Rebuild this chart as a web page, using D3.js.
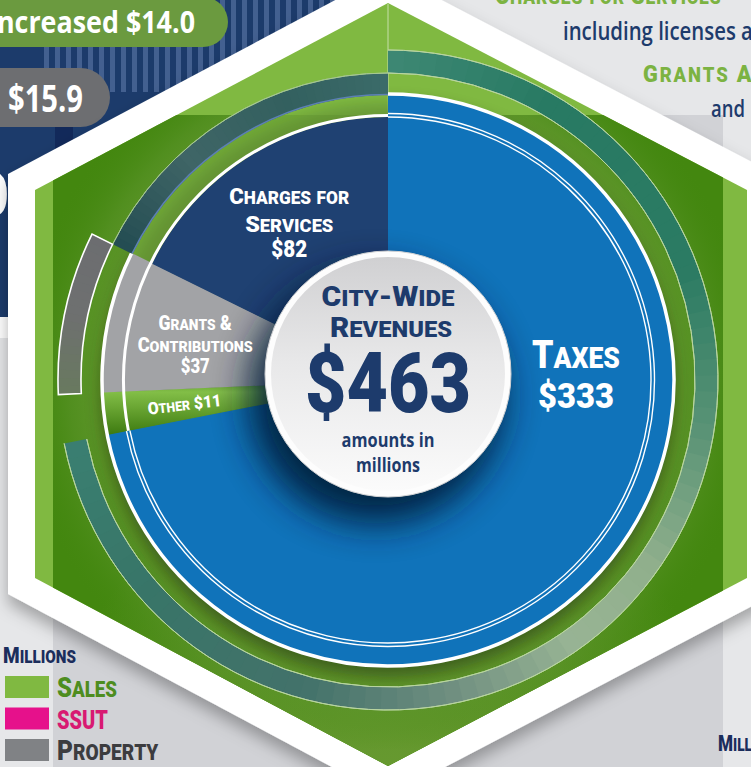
<!DOCTYPE html>
<html><head><meta charset="utf-8">
<script src="https://cdn.jsdelivr.net/npm/d3@7/dist/d3.min.js"></script>
<style>
html,body{margin:0;padding:0;background:#e6e7e9;overflow:hidden}
svg{display:block}
</style></head><body>
<svg id="chart" width="751" height="767" viewBox="0 0 751 767"></svg>
<script>
// ---------------- DATA ----------------
const categories = ["Taxes", "Other", "Grants & Contributions", "Charges for Services"];
const revenueValues = [333, 11, 37, 82];            // $ millions
const totalRevenue = 463;
const sliceLabelLines = [["Taxes", "$333"], ["Other $11"], ["Grants &", "Contributions", "$37"], ["Charges for", "Services", "$82"]];
const centerLines = ["City-Wide", "Revenues", "$" + totalRevenue, "amounts in", "millions"];
const legendTitle = "Millions";
const legendLabels = ["Sales", "SSUT", "Property"];
const pillTexts = ["Increased $14.0", "$15.9"];
const sideTexts = ["Charges for Services", "including licenses and permits", "Grants And Contributions", "and", "Millions"];

// ---------------- LAYOUT / STYLE ----------------
const W = 751, H = 767, cx = 388, cy = 380;
const DISPLAY = "Roboto, Lato, 'DejaVu Sans', sans-serif";
const BODY = "'Open Sans', Lato, 'DejaVu Sans', sans-serif";
const NAVY = "#1d3b6c";
const sliceStyle = {
  "Taxes": {outer: 287, fill: "#1073ba"},
  "Other": {outer: 285, fill: "url(#gOther)"},
  "Grants & Contributions": {outer: 285, fill: "url(#gGrants)"},
  "Charges for Services": {outer: 263, fill: "url(#gCharges)"}
};
const labelLayout = {
  "Taxes": {angle: 90.6, r: 188, size: 39, lines: [{dy: -14, w: 88}, {dy: 26, w: 76, size: 36}]},
  "Other": {r: 205, size: 17, rotate: true, lines: [{dy: 6, w: 74}]},
  "Grants & Contributions": {r: 197, size: 19.5, lines: [{dy: -10, w: 73}, {dy: 12, w: 115}, {dy: 33, w: 29, size: 20}]},
  "Charges for Services": {r: 187, size: 22.5, lines: [{dy: -17, w: 120}, {dy: 11, w: 88}, {dy: 36, w: 36, size: 24}]}
};
const legendColors = ["#80b941", "#e6118b", "#808285"];
const legendTextColors = ["#4e8d1f", "#d81a72", "#3c3c3f"];
const hexGreen = [[388,3],[747,190],[747,578],[388,766],[35,578],[35,190]];
const hexWhite = [[388,-28],[775,174],[775,594],[388,797],[8,594],[8,174]];

// ---------------- HELPERS ----------------
const svg = d3.select("#chart");
const defs = svg.append("defs");
const deg = r => r * 180 / Math.PI;
const rad = d => d * Math.PI / 180;
function grad(type, id, attrs, stops) {
  const g = defs.append(type).attr("id", id);
  Object.entries(attrs).forEach(([k, v]) => g.attr(k, v));
  stops.forEach(([o, c, op]) => g.append("stop").attr("offset", o).attr("stop-color", c).attr("stop-opacity", op == null ? 1 : op));
}
function fitText(parent, o) {
  const g = parent.append("g");
  const t = g.append("text")
    .attr("font-family", o.family || DISPLAY).attr("font-weight", o.weight || 900)
    .attr("fill", o.fill || "#fff").attr("font-size", o.size)
    .attr("text-anchor", o.anchor || "middle").style("white-space", "pre");
  if (o.ls) t.attr("letter-spacing", o.ls);
  if (o.caps) {
    for (const ch of o.text) {
      const lower = ch !== ch.toUpperCase();
      t.append("tspan").attr("font-size", lower ? o.size * (o.ratio || 0.78) : o.size).text(ch.toUpperCase());
    }
  } else t.text(o.text);
  let sx = 1;
  if (o.width) {
    const node = t.node();
    const len = o.prefix ? node.getSubStringLength(0, o.prefix) : node.getComputedTextLength();
    sx = o.width / len;
  }
  g.attr("transform", `translate(${o.x},${o.y}) rotate(${o.rotate || 0}) scale(${sx},1)`);
  return g;
}

// ---------------- DEFS ----------------
grad("linearGradient", "gCharges", {gradientUnits: "userSpaceOnUse", x1: 130, y1: 0, x2: 388, y2: 0},
  [[0, "#1f4172"], [0.7, "#1a3868"], [1, "#0f2345"]]);
grad("radialGradient", "gGrants", {gradientUnits: "userSpaceOnUse", cx: cx, cy: cy, r: 285},
  [[0.4, "#6c6d70"], [0.65, "#8d8e91"], [1, "#a2a3a6"]]);
grad("linearGradient", "gOther", {x1: 0, y1: 0, x2: 0, y2: 1},
  [[0, "#5d9a2b"], [0.22, "#82be47"], [0.5, "#6aa633"], [1, "#3d7a10"]]);
grad("linearGradient", "gCenter", {x1: 0, y1: 0, x2: 0, y2: 1},
  [[0, "#d0d0d2"], [0.45, "#e8e8e9"], [1, "#fbfbfb"]]);
grad("radialGradient", "gGlowPie", {gradientUnits: "userSpaceOnUse", cx: cx, cy: cy, r: 370},
  [[0.75, "#64992e", 1], [0.86, "#5b942a", 0.6], [1, "#43870f", 0]]);
grad("radialGradient", "gGlowBottom", {gradientUnits: "userSpaceOnUse", cx: 388, cy: 790, r: 340},
  [[0, "#689a31", 1], [0.6, "#62962d", 0.8], [1, "#62962d", 0]]);
const fBlur = defs.append("filter").attr("id", "blur").attr("x", "-30%").attr("y", "-30%").attr("width", "160%").attr("height", "160%");
fBlur.append("feGaussianBlur").attr("stdDeviation", 8);
const fBlur2 = defs.append("filter").attr("id", "blur2").attr("x", "-40%").attr("y", "-40%").attr("width", "180%").attr("height", "180%");
fBlur2.append("feGaussianBlur").attr("stdDeviation", 18);
const fHex = defs.append("filter").attr("id", "hexShadow").attr("x", "-10%").attr("y", "-10%").attr("width", "120%").attr("height", "130%");
fHex.append("feDropShadow").attr("dx", 0).attr("dy", 9).attr("stdDeviation", 8).attr("flood-color", "#000").attr("flood-opacity", 0.3);
defs.append("clipPath").attr("id", "hexClip").append("polygon").attr("points", hexGreen.map(p => p.join(",")).join(" "));
const pat = defs.append("pattern").attr("id", "stripes").attr("patternUnits", "userSpaceOnUse").attr("width", 11).attr("height", 20);
pat.append("rect").attr("width", 5).attr("height", 20).attr("fill", "#4a6797");

// ---------------- BACKGROUND ----------------
svg.append("rect").attr("width", W).attr("height", H).attr("fill", "#e6e7e9");
svg.append("rect").attr("x", 53).attr("y", 115).attr("width", 670).attr("height", H - 115).attr("fill", "#d1d2d6");
svg.append("rect").attr("x", 0).attr("y", 0).attr("width", 390).attr("height", 317).attr("fill", "#1c3b6b");
svg.append("rect").attr("x", 0).attr("y", 317).attr("width", 40).attr("height", 21).attr("fill", "#fff");
svg.append("rect").attr("x", 40).attr("y", 0).attr("width", 295).attr("height", 92).attr("fill", "url(#stripes)").attr("opacity", 0.85);
svg.append("rect").attr("x", 55).attr("y", 118).attr("width", 18).attr("height", 199).attr("fill", "#12295a");
svg.append("text").attr("x", 9).attr("y", 216).attr("text-anchor", "end").attr("font-family", BODY)
  .attr("font-weight", 700).attr("font-size", 60).attr("fill", "#fff").text("0");

// pills
svg.append("rect").attr("x", -40).attr("y", -3).attr("width", 268).attr("height", 50).attr("rx", 25).attr("fill", "#6b9a3f");
svg.append("rect").attr("x", -40).attr("y", 68).attr("width", 150).attr("height", 59).attr("rx", 29.5).attr("fill", "#6d6e71");
fitText(svg, {text: pillTexts[0], x: 195, y: 33, anchor: "end", size: 31, width: 207, family: BODY, weight: 700});
fitText(svg, {text: pillTexts[1], x: 8, y: 112, anchor: "start", size: 38, width: 75, family: BODY, weight: 700});

// hexagon
svg.append("polygon").attr("points", hexWhite.map(p => p.join(",")).join(" ")).attr("fill", "#fff").attr("filter", "url(#hexShadow)");
svg.append("polygon").attr("points", hexGreen.map(p => p.join(",")).join(" ")).attr("fill", "#80b941");
const inner = svg.append("g").attr("clip-path", "url(#hexClip)");
inner.append("rect").attr("x", 53).attr("y", 115).attr("width", 670).attr("height", 660).attr("fill", "#43870f");
inner.append("rect").attr("x", 53).attr("y", 115).attr("width", 670).attr("height", 660).attr("fill", "url(#gGlowBottom)");
inner.append("rect").attr("x", 53).attr("y", 115).attr("width", 670).attr("height", 660).attr("fill", "url(#gGlowPie)");
svg.append("line").attr("x1", cx).attr("x2", cx).attr("y1", 4).attr("y2", cy - 263)
  .attr("stroke", "#fff").attr("stroke-opacity", 0.55).attr("stroke-width", 1);

// ---------------- PIE ----------------
const pieData = d3.pie().sort(null).value(d => d.value)(categories.map((c, i) => ({name: c, value: revenueValues[i]})));
const P = Object.fromEntries(pieData.map(d => [d.data.name, d]));
const arc = d3.arc();
const G = svg.append("g").attr("transform", `translate(${cx},${cy})`);

// pie drop shadow
G.append("circle").attr("cx", 0).attr("cy", 10).attr("r", 287).attr("fill", "#24300a").attr("opacity", 0.55).attr("filter", "url(#blur)");

function conicBand(g, a0, a1, r0, r1, color, n) {
  for (let i = 0; i < n; i++) {
    const s = a0 + (a1 - a0) * i / n;
    const e = a0 + (a1 - a0) * (i + 1) / n + (i < n - 1 ? 0.004 : 0);
    g.append("path").attr("d", arc({innerRadius: r0, outerRadius: r1, startAngle: s, endAngle: e}))
      .attr("fill", color(deg((s + e) / 2)));
  }
}
const tax = P["Taxes"], oth = P["Other"], gra = P["Grants & Contributions"], cha = P["Charges for Services"];

// green translucent ring over charges
G.append("path").attr("d", arc({innerRadius: 263, outerRadius: 285, startAngle: cha.startAngle, endAngle: cha.endAngle}))
  .attr("fill", "#82bd46").attr("opacity", 0.55);
// dark teal band over charges
conicBand(G, cha.startAngle, cha.endAngle, 285, 307,
  d3.scaleLinear().domain([296, 318, 340, 360]).range(["#234c52", "#3f6566", "#33605f", "#3b6b69"]), 40);
G.append("path").attr("d", d3.arc().innerRadius(307).outerRadius(307)({startAngle: cha.startAngle, endAngle: cha.endAngle}))
  .attr("fill", "none").attr("stroke", "#a6c890").attr("stroke-width", 1);
G.append("path").attr("d", d3.arc().innerRadius(285.5).outerRadius(285.5)({startAngle: cha.startAngle, endAngle: cha.endAngle}))
  .attr("fill", "none").attr("stroke", "#5d80b5").attr("stroke-width", 1.6);
// taxes outer band
conicBand(G, tax.startAngle, tax.endAngle, 307, 330,
  d3.scaleLinear().domain([0, 30, 70, 100, 125, 145, 170, 195, 230, 259])
    .range(["#3e8874", "#287a63", "#2b7b63", "#5b9476", "#90af8c", "#98b494", "#6d8d7f", "#43726a", "#387568", "#3a7f71"]), 90);
[307, 330].forEach(r => G.append("path").attr("d", d3.arc().innerRadius(r).outerRadius(r)({startAngle: tax.startAngle, endAngle: tax.endAngle}))
  .attr("fill", "none").attr("stroke", "#b9d5a0").attr("stroke-width", 1));
// property (gray) band over grants
conicBand(G, gra.startAngle, gra.endAngle, 307, 330,
  d3.scaleLinear().domain([267, 282, 297]).range(["#687a5e", "#6e7070", "#6c6d70"]), 20);
G.append("path").attr("d", arc({innerRadius: 307, outerRadius: 330, startAngle: gra.startAngle, endAngle: gra.endAngle}))
  .attr("fill", "none").attr("stroke", "#fff").attr("stroke-width", 1.6);

// slices
G.selectAll("path.slice").data(pieData).join("path").attr("class", "slice")
  .attr("d", d => arc({innerRadius: 0, outerRadius: sliceStyle[d.data.name].outer, startAngle: d.startAngle, endAngle: d.endAngle + (d.index < 3 ? 0.002 : 0)}))
  .attr("fill", d => sliceStyle[d.data.name].fill);

// white rings
G.append("path").attr("d", d3.arc().innerRadius(286).outerRadius(286)({startAngle: 0, endAngle: gra.endAngle}))
  .attr("fill", "none").attr("stroke", "#fff").attr("stroke-width", 3.5);
G.append("path").attr("d", d3.arc().innerRadius(264.5).outerRadius(264.5)({startAngle: oth.startAngle, endAngle: cha.endAngle}))
  .attr("fill", "none").attr("stroke", "#fff").attr("stroke-width", 3);
[263, 266.5].forEach(r => G.append("path").attr("d", d3.arc().innerRadius(r).outerRadius(r)({startAngle: tax.startAngle, endAngle: tax.endAngle}))
  .attr("fill", "none").attr("stroke", "#fff").attr("stroke-width", 1.4));

// center circle
const ccy = -6;
G.append("circle").attr("cx", -12).attr("cy", ccy + 22).attr("r", 128).attr("fill", "#021c38").attr("opacity", 0.9).attr("filter", "url(#blur2)");
G.append("circle").attr("cx", 0).attr("cy", ccy).attr("r", 123).attr("fill", "#fdfdfd").attr("stroke", "#cfd0d2").attr("stroke-width", 1);
G.append("circle").attr("cx", 0).attr("cy", ccy).attr("r", 117).attr("fill", "url(#gCenter)");

// center text
fitText(G, {text: centerLines[0], x: 0, y: 306 - cy, size: 27, ratio: 0.8, caps: true, width: 133, fill: NAVY});
fitText(G, {text: centerLines[1], x: 3, y: 337 - cy, size: 27, ratio: 0.8, caps: true, width: 122, fill: NAVY});
fitText(G, {text: centerLines[2], x: 0, y: 412 - cy, size: 84, width: 166, fill: NAVY});
fitText(G, {text: centerLines[3], x: 0, y: 447 - cy, size: 20, width: 93, fill: NAVY, family: BODY, weight: 700});
fitText(G, {text: centerLines[4], x: 0, y: 472 - cy, size: 20, width: 64, fill: NAVY, family: BODY, weight: 700});

// slice labels
pieData.forEach((d, i) => {
  const L = labelLayout[d.data.name];
  const a = L.angle != null ? L.angle : deg((d.startAngle + d.endAngle) / 2);
  const x = L.r * Math.sin(rad(a)), y = -L.r * Math.cos(rad(a));
  const rot = L.rotate ? a - 270 : 0;
  const lg = G.append("g").attr("transform", `translate(${x},${y}) rotate(${rot})`);
  sliceLabelLines[i].forEach((txt, j) => {
    const ln = L.lines[j];
    fitText(lg, {text: txt, x: 0, y: ln.dy, size: ln.size || L.size, ratio: 0.78, caps: true, width: ln.w});
  });
});

// ---------------- SIDE TEXTS ----------------
fitText(svg, {text: sideTexts[0], x: 495, y: 4, anchor: "start", size: 26, ratio: 0.8, caps: true, prefix: 11, width: 130, fill: "#7cb342", ls: 1});
fitText(svg, {text: sideTexts[1], x: 563, y: 40, anchor: "start", size: 26, prefix: 20, width: 190, fill: NAVY, family: BODY, weight: 600});
fitText(svg, {text: sideTexts[2], x: 643, y: 82, anchor: "start", size: 24, ratio: 0.85, caps: true, prefix: 8, width: 110, fill: "#7cb342", ls: 2});
fitText(svg, {text: sideTexts[3], x: 711, y: 117, anchor: "start", size: 24, width: 34, fill: NAVY, family: BODY, weight: 600});
fitText(svg, {text: sideTexts[4], x: 718, y: 751, anchor: "start", size: 22, ratio: 0.8, caps: true, prefix: 4, width: 34, fill: "#1b2d5c"});

// ---------------- LEGEND ----------------
fitText(svg, {text: legendTitle, x: 3, y: 663, anchor: "start", size: 22, ratio: 0.8, caps: true, width: 73, fill: "#1b2d5c"});
const legendY = d3.scalePoint().domain(legendLabels).range([676, 739]);
const legendW = [60, 51, 101];
legendLabels.forEach((lab, i) => {
  svg.append("rect").attr("x", 5).attr("y", legendY(lab)).attr("width", 44).attr("height", 22).attr("fill", legendColors[i]);
  fitText(svg, {text: lab, x: 57, y: legendY(lab) + 21, anchor: "start", size: lab === "SSUT" ? 26 : 28, ratio: 0.78, caps: true, width: legendW[i], fill: legendTextColors[i]});
});
</script>
</body></html>
